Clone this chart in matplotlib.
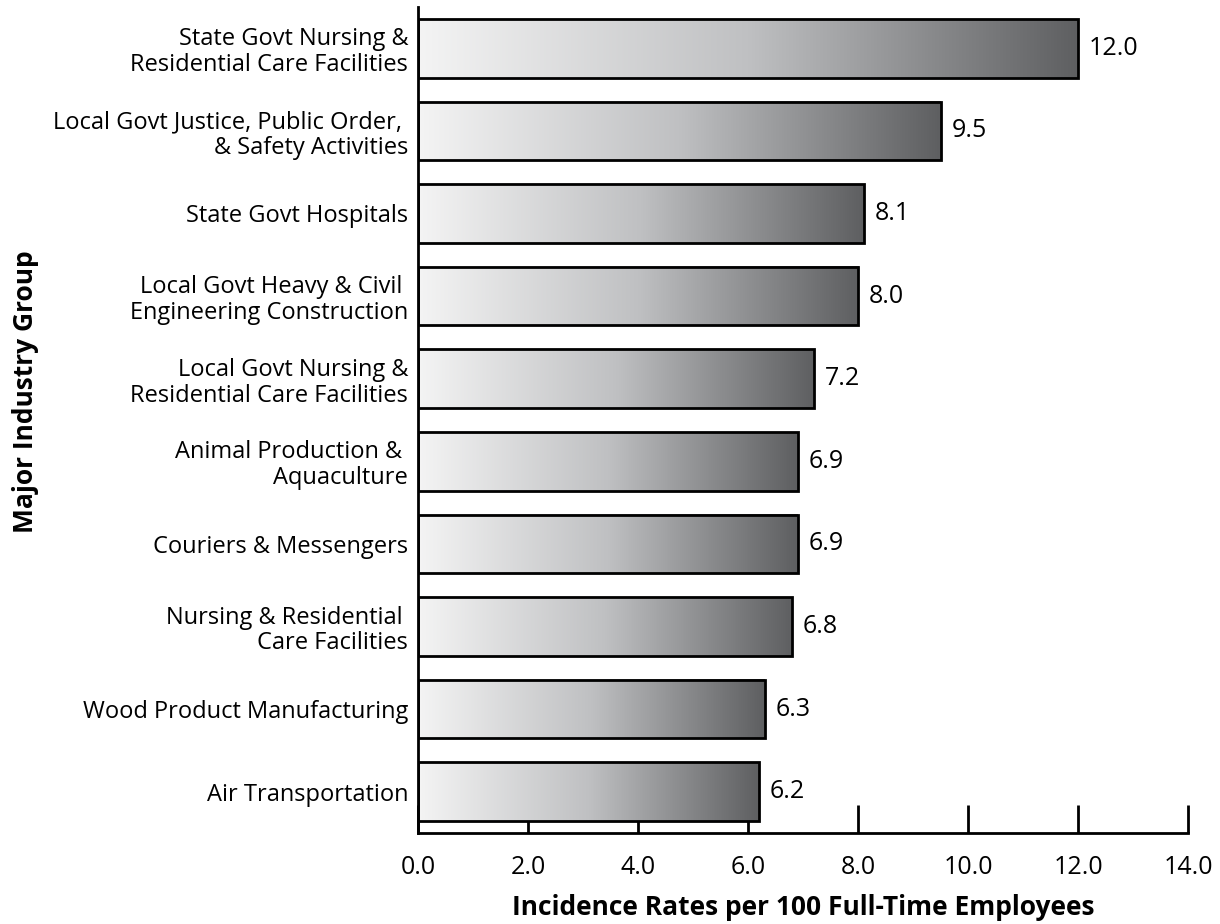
import numpy as np
import matplotlib.pyplot as plt
from matplotlib.colors import LinearSegmentedColormap
from matplotlib.patches import Rectangle

# industry groups, top to bottom
industries = [
    "State Govt Nursing &\nResidential Care Facilities",
    "Local Govt Justice, Public Order, \n& Safety Activities",
    "State Govt Hospitals",
    "Local Govt Heavy & Civil \nEngineering Construction",
    "Local Govt Nursing &\nResidential Care Facilities",
    "Animal Production & \nAquaculture",
    "Couriers & Messengers",
    "Nursing & Residential \nCare Facilities",
    "Wood Product Manufacturing",
    "Air Transportation",
]
rates = [12.0, 9.5, 8.1, 8.0, 7.2, 6.9, 6.9, 6.8, 6.3, 6.2]
xticks = [0, 2, 4, 6, 8, 10, 12, 14]

plt.rcParams['font.family'] = ['Open Sans', 'DejaVu Sans']

fig = plt.figure(figsize=(12.2, 9.24), dpi=100)
ax = fig.add_axes([418 / 1220, 1 - 833 / 924, 770 / 1220, 826 / 924])

grad_cmap = LinearSegmentedColormap.from_list("bar_grad", ["#f4f4f4", "#bfc0c2", "#5e5f61"])
grad = np.linspace(0, 1, 256).reshape(1, -1)
bar_h = 0.71

for i, v in enumerate(rates):
    y0 = i - bar_h / 2
    ax.imshow(grad, cmap=grad_cmap, extent=[0, v, y0 + bar_h, y0],
              aspect='auto', interpolation='bicubic', zorder=2)
    ax.add_patch(Rectangle((0, y0), v, bar_h, fill=False,
                           edgecolor='black', linewidth=2, zorder=3))
    ax.text(v + 0.2, i, f"{v:.1f}", va='center', ha='left', fontsize=18)

ax.set_xlim(0, 14)
ax.set_ylim(len(rates) - 0.5, -0.5)
ax.set_yticks(range(len(rates)))
ax.set_yticklabels(industries, fontsize=17, linespacing=1.1)
ax.set_xticks(xticks)
ax.set_xticklabels([f"{t:.1f}" for t in xticks], fontsize=18)

ax.tick_params(axis='x', direction='in', length=20, width=2, pad=16)
ax.tick_params(axis='y', length=0, pad=7)
for s in ['top', 'right']:
    ax.spines[s].set_visible(False)
for s in ['left', 'bottom']:
    ax.spines[s].set_linewidth(2)

ax.set_xlabel("Incidence Rates per 100 Full-Time Employees",
              fontsize=19, fontweight='bold', labelpad=10)
fig.text(26 / 1220, 1 - 392 / 924, "Major Industry Group", rotation=90,
         ha='center', va='center', fontsize=19, fontweight='bold')

fig.savefig("out.png", dpi=100)
